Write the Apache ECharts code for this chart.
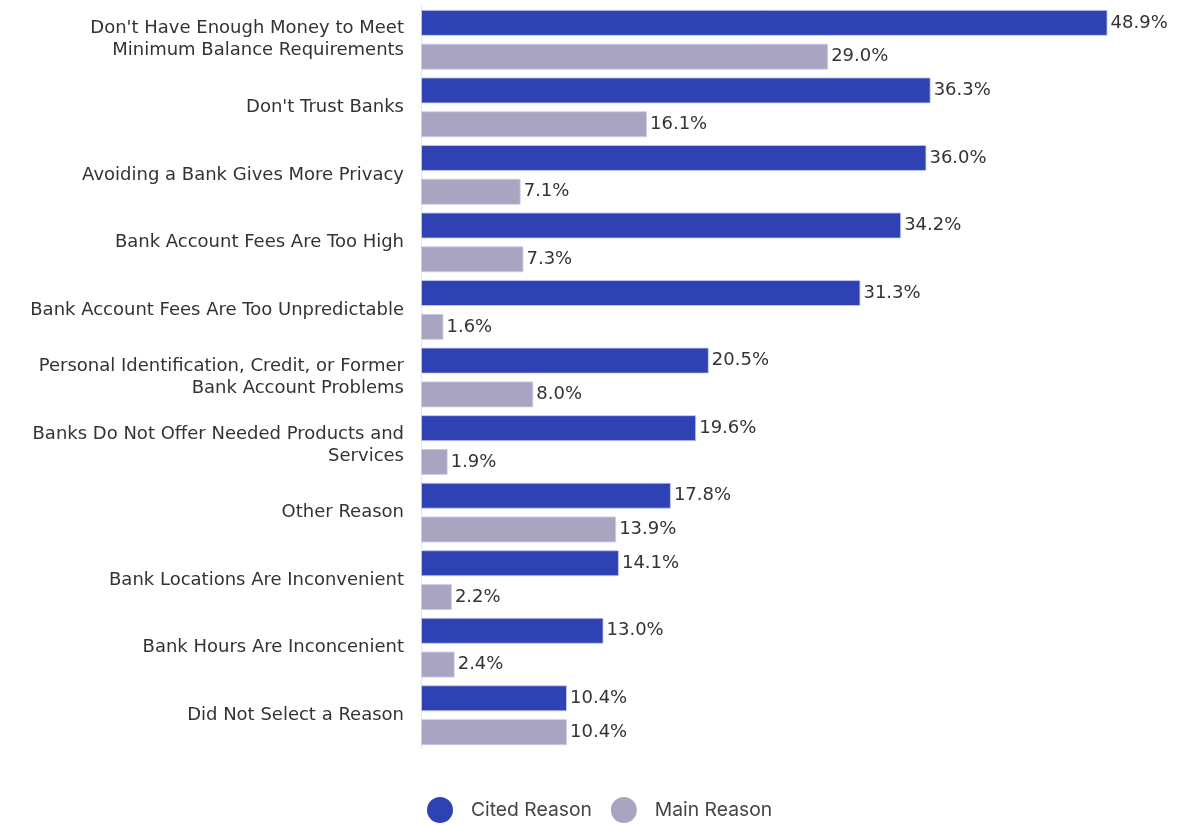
<!DOCTYPE html>
<html lang="en">
<head>
    <meta charset="UTF-8">
    <title>unbanked_reasons</title>
    <style>
        html, body { margin: 0; padding: 0; background: #fff; }
        #main { width: 1178px; height: 825px; }
    </style>
</head>
<body>
    <div id="main"></div>
</body>
<script src="https://cdn.jsdelivr.net/npm/echarts@6/dist/echarts.min.js"></script>
<script>
    var categories = [
        "Don't Have Enough Money to Meet\nMinimum Balance Requirements",
        "Don't Trust Banks",
        "Avoiding a Bank Gives More Privacy",
        "Bank Account Fees Are Too High",
        "Bank Account Fees Are Too Unpredictable",
        "Personal Identification, Credit, or Former\nBank Account Problems",
        "Banks Do Not Offer Needed Products and\nServices",
        "Other Reason",
        "Bank Locations Are Inconvenient",
        "Bank Hours Are Inconcenient",
        "Did Not Select a Reason"
    ]
    var cited = [48.9, 36.3, 36.0, 34.2, 31.3, 20.5, 19.6, 17.8, 14.1, 13.0, 10.4]
    var main_ = [29.0, 16.1, 7.1, 7.3, 1.6, 8.0, 1.9, 13.9, 2.2, 2.4, 10.4]

    var chart = echarts.init(document.getElementById('main'))
    var labelFont = '"DejaVu Sans", sans-serif'

    function barSeries(name, data, color) {
        return {
            name: name,
            type: 'bar',
            data: data,
            barWidth: 26,
            barGap: '30%',
            itemStyle: {
                color: color,
                borderColor: 'rgba(200,205,240,0.8)',
                borderWidth: 1
            },
            label: {
                show: true,
                position: 'right',
                distance: 3,
                color: '#333',
                fontSize: 18,
                fontFamily: labelFont,
                formatter: function (p) { return p.value.toFixed(1) + '%' }
            }
        }
    }

    var option = {
        animation: false,
        grid: { left: 421, right: 55, top: 6, bottom: 76 },
        legend: {
            top: 792,
            left: 422,
            icon: 'circle',
            itemWidth: 26,
            itemHeight: 26,
            itemGap: 19,
            itemStyle: { borderWidth: 0 },
            textStyle: {
                color: '#444',
                fontSize: 19.3,
                fontFamily: 'Inter, Roboto, sans-serif',
                padding: [0, 0, 0, 13]
            },
            data: ['Cited Reason', 'Main Reason']
        },
        xAxis: {
            type: 'value',
            min: 0,
            max: 50,
            show: false
        },
        yAxis: {
            type: 'category',
            inverse: true,
            data: categories,
            axisTick: { show: false },
            axisLine: { show: true, lineStyle: { color: '#e6e6e6', width: 1 } },
            axisLabel: {
                margin: 17,
                color: '#333',
                fontSize: 18,
                lineHeight: 22,
                fontFamily: labelFont
            }
        },
        series: [
            barSeries('Cited Reason', cited, '#2e42b4'),
            barSeries('Main Reason', main_, '#a9a5c0')
        ]
    }
    chart.setOption(option)
</script>
</html>
